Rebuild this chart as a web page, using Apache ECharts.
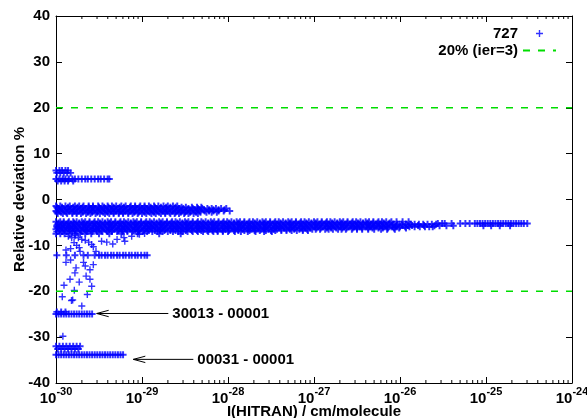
<!DOCTYPE html>
<html><head><meta charset="utf-8">
<script src="https://cdn.jsdelivr.net/npm/echarts@6/dist/echarts.min.js"></script>
<style>html,body{margin:0;padding:0;background:#fff}#c{width:587px;height:418px}</style>
</head><body><div id="c"></div>
<script>
// ---------- data (x values are log10 of I(HITRAN) in cm/molecule) ----------
const xTickExponents = [-30, -29, -28, -27, -26, -25, -24];
const yRange = [-40, 40];
const thresholdLevels = [20, -20];
const seriesName = '727';
const thresholdName = '20% (ier=3)';

// dense rows: [relative deviation %, [log10 I ...]]
const rowsTop = [
  [6.3, [-30.00,-29.96,-29.93,-29.89,-29.86]],
  [5.8, [-29.99,-29.95,-29.91,-29.87,-29.83]],
  [4.45, [-30.00,-29.96,-29.92,-29.89,-29.85,-29.81,-29.78,-29.74,-29.70,-29.66,-29.63,-29.59,-29.55,-29.51,-29.48,-29.44,-29.40,-29.38]],
  [4.05, [-29.98,-29.94,-29.90,-29.86,-29.80]]
];
const rowsUpper = [
  [-1.4, [-30.00,-29.95,-29.89,-29.84,-29.78,-29.73,-29.68,-29.62,-29.57,-29.51,-29.46,-29.40,-29.35,-29.30,-29.24,-29.19,-29.13,-29.08,-29.02,-28.97,-28.92,-28.86,-28.81,-28.75,-28.70,-28.64,-28.59]],
  [-1.68, [-29.99,-29.93,-29.86,-29.80,-29.75,-29.69,-29.62,-29.57,-29.50,-29.44,-29.39,-29.33,-29.26,-29.21,-29.14,-29.08,-29.03,-28.97,-28.90,-28.85,-28.78,-28.72,-28.67,-28.61,-28.54,-28.49,-28.42,-28.36,-28.31]],
  [-1.95, [-29.98,-29.93,-29.87,-29.82,-29.76,-29.71,-29.66,-29.60,-29.55,-29.49,-29.44,-29.38,-29.33,-29.28,-29.22,-29.17,-29.11,-29.06,-29.00,-28.95,-28.90,-28.84,-28.79,-28.73,-28.68,-28.62,-28.57,-28.52,-28.46,-28.41,-28.35,-28.30,-28.24,-28.19,-28.14,-28.08,-28.02]],
  [-2.22, [-29.97,-29.91,-29.84,-29.79,-29.72,-29.66,-29.61,-29.55,-29.48,-29.43,-29.36,-29.30,-29.25,-29.19,-29.12,-29.07,-29.00,-28.94,-28.89,-28.83,-28.76,-28.71,-28.64,-28.58,-28.53,-28.47,-28.40,-28.35,-28.28,-28.22,-28.17,-28.11,-28.04]],
  [-2.5, [-30.00,-29.96,-29.90,-29.85,-29.79,-29.74,-29.69,-29.63,-29.58,-29.52,-29.47,-29.41,-29.36,-29.31,-29.25,-29.20,-29.14,-29.09,-29.03,-28.98,-28.93,-28.87,-28.82,-28.76,-28.71,-28.65,-28.60,-28.55,-28.49,-28.44,-28.38,-28.33,-28.27,-28.22,-28.17,-28.11,-28.05,-27.98]],
  [-2.78, [-29.99,-29.94,-29.88,-29.81,-29.76,-29.69,-29.63,-29.58,-29.52,-29.45,-29.40,-29.33,-29.27,-29.22,-29.16,-29.09,-29.04,-28.97,-28.91,-28.86,-28.80,-28.73,-28.68,-28.61,-28.55,-28.50,-28.44,-28.37,-28.32,-28.25,-28.19,-28.13]],
  [-3.05, [-29.98,-29.92,-29.87,-29.81,-29.76,-29.71,-29.65,-29.60,-29.54,-29.49,-29.43,-29.38,-29.33,-29.27,-29.22,-29.16,-29.11,-29.05,-29.00,-28.95,-28.89,-28.84,-28.78,-28.73,-28.67,-28.62,-28.57,-28.51,-28.46,-28.40,-28.35]]
];
const rowsMain = [
  [-4.85, [-30.00,-29.95,-29.91,-29.85,-29.80,-29.76,-29.70,-29.66,-29.61,-29.55,-29.51,-29.46,-29.40,-29.36,-29.31,-29.25,-29.21,-29.16,-29.10,-29.06,-29.01,-28.95,-28.91,-28.86,-28.80,-28.76,-28.71,-28.65,-28.61,-28.56,-28.50,-28.46,-28.41,-28.35,-28.31,-28.26,-28.20,-28.16,-28.11,-28.05,-28.01,-27.96,-27.90,-27.86,-27.81,-27.75,-27.71,-27.66,-27.60,-27.56,-27.51,-27.45,-27.41,-27.36,-27.30,-27.26,-27.21,-27.15,-27.11,-27.06,-27.00,-26.96,-26.91,-26.85,-26.81,-26.76,-26.70,-26.66,-26.61,-26.55,-26.51,-26.46,-26.40,-26.36,-26.31,-26.25,-26.21,-26.16,-26.10,-26.04,-25.97,-25.90]],
  [-5.12, [-29.97,-29.91,-29.86,-29.79,-29.73,-29.68,-29.61,-29.56,-29.49,-29.43,-29.38,-29.31,-29.26,-29.19,-29.13,-29.08,-29.01,-28.96,-28.89,-28.83,-28.78,-28.71,-28.66,-28.59,-28.53,-28.48,-28.41,-28.36,-28.29,-28.23,-28.18,-28.11,-28.06,-27.99,-27.93,-27.88,-27.81,-27.76,-27.69,-27.63,-27.58,-27.51,-27.46,-27.39,-27.33,-27.28,-27.21,-27.16,-27.09,-27.03,-26.98,-26.91,-26.86,-26.79,-26.73,-26.68,-26.61,-26.56,-26.49,-26.43,-26.38,-26.31,-26.26,-26.19,-26.12]],
  [-5.4, [-29.98,-29.93,-29.88,-29.83,-29.78,-29.73,-29.68,-29.63,-29.58,-29.53,-29.48,-29.43,-29.38,-29.33,-29.28,-29.23,-29.18,-29.13,-29.08,-29.03,-28.98,-28.93,-28.88,-28.83,-28.78,-28.73,-28.68,-28.63,-28.58,-28.53,-28.48,-28.43,-28.38,-28.33,-28.28,-28.23,-28.18,-28.13,-28.08,-28.03,-27.98,-27.93,-27.88,-27.83,-27.78,-27.73,-27.68,-27.63,-27.58,-27.53,-27.48,-27.43,-27.38,-27.33,-27.28,-27.23,-27.18,-27.13,-27.08,-27.03,-26.98,-26.93,-26.88,-26.83,-26.78,-26.73,-26.68,-26.63,-26.58,-26.53,-26.48,-26.43,-26.38,-26.33,-26.28,-26.23,-26.18,-26.13,-26.08,-26.03,-25.98,-25.93,-25.88,-25.83,-25.78,-25.73,-25.68,-25.63,-25.58]],
  [-5.67, [-29.99,-29.94,-29.87,-29.81,-29.76,-29.69,-29.64,-29.57,-29.51,-29.46,-29.39,-29.34,-29.27,-29.21,-29.16,-29.09,-29.04,-28.97,-28.91,-28.86,-28.79,-28.74,-28.67,-28.61,-28.56,-28.49,-28.44,-28.37,-28.31,-28.26,-28.19,-28.14,-28.07,-28.01,-27.96,-27.89,-27.84,-27.77,-27.71,-27.66,-27.59,-27.54,-27.47,-27.41,-27.36,-27.29,-27.24,-27.17,-27.11,-27.06,-26.99,-26.94,-26.87,-26.81,-26.76,-26.69,-26.64,-26.57,-26.51,-26.46,-26.39,-26.34,-26.27,-26.21,-26.16,-26.09,-26.04,-25.97,-25.91,-25.86,-25.79,-25.72]],
  [-5.95, [-29.99,-29.94,-29.89,-29.84,-29.80,-29.75,-29.69,-29.65,-29.60,-29.54,-29.50,-29.45,-29.39,-29.35,-29.30,-29.24,-29.20,-29.15,-29.09,-29.05,-29.00,-28.94,-28.90,-28.85,-28.79,-28.75,-28.70,-28.64,-28.60,-28.55,-28.49,-28.45,-28.40,-28.34,-28.30,-28.25,-28.19,-28.15,-28.10,-28.04,-28.00,-27.95,-27.89,-27.85,-27.80,-27.74,-27.70,-27.65,-27.59,-27.55,-27.50,-27.44,-27.40,-27.35,-27.29,-27.25,-27.20,-27.14,-27.10,-27.05,-26.99,-26.95,-26.90,-26.84,-26.80,-26.75,-26.69,-26.65,-26.60,-26.54,-26.50,-26.45,-26.39,-26.35,-26.30,-26.24,-26.20,-26.15,-26.09,-26.05,-26.00,-25.94,-25.89,-25.83,-25.77,-25.71,-25.66,-25.62]],
  [-6.22, [-29.98,-29.92,-29.85,-29.80,-29.74,-29.67,-29.62,-29.55,-29.50,-29.44,-29.37,-29.32,-29.25,-29.20,-29.14,-29.07,-29.02,-28.95,-28.90,-28.84,-28.77,-28.72,-28.65,-28.60,-28.54,-28.47,-28.42,-28.35,-28.30,-28.24,-28.17,-28.12,-28.05,-28.00,-27.94,-27.87,-27.82,-27.75,-27.70,-27.64,-27.57,-27.52,-27.45,-27.40,-27.34,-27.27,-27.22,-27.15,-27.10,-27.04,-26.97,-26.92,-26.85,-26.80,-26.74,-26.67,-26.62,-26.55,-26.50,-26.44,-26.37,-26.32,-26.25,-26.20,-26.14,-26.07,-26.01,-25.93]],
  [-6.5, [-30.00,-29.96,-29.91,-29.86,-29.82,-29.77,-29.72,-29.67,-29.63,-29.57,-29.53,-29.48,-29.42,-29.38,-29.33,-29.27,-29.23,-29.18,-29.12,-29.08,-29.03,-28.97,-28.93,-28.88,-28.82,-28.78,-28.73,-28.67,-28.63,-28.58,-28.52,-28.48,-28.43,-28.37,-28.33,-28.28,-28.22,-28.18,-28.13,-28.07,-28.03,-27.98,-27.92,-27.88,-27.83,-27.77,-27.73,-27.68,-27.62,-27.58,-27.53,-27.47,-27.43,-27.38,-27.32,-27.28,-27.23,-27.17,-27.13,-27.08,-27.02,-26.98,-26.93,-26.87,-26.83,-26.78,-26.72,-26.68,-26.63,-26.56,-26.50,-26.44,-26.37,-26.30,-26.22,-26.15,-26.06]],
  [-6.77, [-29.96,-29.90,-29.84,-29.78,-29.71,-29.65,-29.60,-29.53,-29.47,-29.41,-29.35,-29.28,-29.22,-29.17,-29.10,-29.04,-28.98,-28.92,-28.85,-28.79,-28.74,-28.67,-28.61,-28.55,-28.49,-28.42,-28.36,-28.31,-28.24,-28.18,-28.12,-28.06,-27.99,-27.93,-27.88,-27.81,-27.75,-27.69,-27.63,-27.56,-27.50,-27.45,-27.38,-27.32,-27.26,-27.20,-27.13,-27.07]],
  [-7.0, [-29.99,-29.93,-29.88,-29.81,-29.76,-29.70,-29.64,-29.58,-29.52,-29.46,-29.40,-29.35,-29.29,-29.23,-29.17,-29.11,-29.05,-28.99,-28.94,-28.88,-28.82,-28.76,-28.70,-28.64,-28.58,-28.53,-28.47,-28.41,-28.35,-28.29,-28.23,-28.17,-28.12,-28.06,-28.00,-27.92,-27.85,-27.77,-27.68,-27.58,-27.49]],
  [-7.45, [-30.00,-29.95,-29.90,-29.84,-29.78,-29.72,-29.66,-29.59,-29.50,-29.38,-29.24,-29.05,-28.80,-28.55]]
];
const rowsTail = [
  [-5.25, [-25.56,-25.51,-25.48,-25.40,-25.30,-25.24,-25.19,-25.13,-25.10,-25.07,-25.04,-25.01,-24.98,-24.95,-24.92,-24.89,-24.86,-24.83,-24.80,-24.77,-24.74,-24.71,-24.68,-24.65,-24.62,-24.59,-24.56,-24.52]],
  [-5.7, [-25.60,-25.54,-25.46,-25.38,-25.03,-24.94,-24.84,-24.72]]
];
const rowsLow = [
  [-12.15, [-29.99,-29.88,-29.78,-29.68,-29.63,-29.55,-29.50,-29.47,-29.43,-29.40,-29.36,-29.33,-29.29,-29.26,-29.22,-29.19,-29.15,-29.12,-29.08,-29.05,-29.01,-28.97,-28.94]],
  [-24.95, [-30.00,-29.97,-29.94,-29.91,-29.88,-29.85,-29.82,-29.79,-29.76,-29.73,-29.70,-29.67,-29.64,-29.61,-29.58]],
  [-24.5, [-29.99,-29.94,-29.89]],
  [-32.0, [-30.00,-29.96,-29.92,-29.88,-29.84,-29.80,-29.76,-29.72]],
  [-32.6, [-29.98,-29.94,-29.90,-29.86,-29.82,-29.78,-29.74]],
  [-33.85, [-30.00,-29.97,-29.94,-29.91,-29.88,-29.85,-29.82,-29.79,-29.76,-29.73,-29.70,-29.67,-29.64,-29.61,-29.58,-29.55,-29.52,-29.49,-29.46,-29.43,-29.40,-29.37,-29.34,-29.31,-29.28,-29.25,-29.22]]
];
// isolated points: [log10 I, relative deviation %]
const isolatedPoints = [
  [-29.857,-8.0],[-29.818,-8.35],[-29.779,-7.9],[-29.74,-8.35],[-29.70,-8.7],[-29.66,-8.9],[-29.62,-9.3],
  [-29.585,-9.8],[-29.79,-9.4],[-29.76,-10.0],[-29.73,-10.5],[-29.566,-10.3],[-29.535,-11.3],[-29.884,-11.0],
  [-29.83,-10.7],[-29.884,-13.7],[-29.83,-13.2],[-29.68,-13.7],[-29.72,-11.3],[-29.767,-14.9],[-29.78,-16.0],
  [-29.73,-18.0],[-29.837,-17.4],[-29.907,-18.7],[-29.787,-19.8],[-29.927,-21.2],[-29.806,-21.9],[-29.70,-23.2],
  [-29.636,-20.7],[-29.585,-18.9],[-29.605,-17.4],[-29.65,-16.7],[-29.605,-15.3],[-29.566,-14.2],[-29.66,-14.5],
  [-29.47,-9.1],[-29.41,-9.3],[-29.34,-9.7],[-29.29,-8.7],[-29.21,-8.3],[-29.20,-9.1],[-29.12,-8.0],
  [-29.03,-7.6],[-28.97,-7.4],[-29.82,-22.0],[-29.92,-29.8]
];
// annotations
const arrowLabels = ['30013 - 00001', '00031 - 00001'];
const arrowTailX = [-28.694, -28.403];
const arrowHeadX = [-29.527, -29.101];
const arrowY = [-24.85, -34.85];

// ---------- build ----------
const densePoints = [];
[rowsTop, rowsUpper, rowsMain, rowsTail, rowsLow].forEach(rows =>
  rows.forEach(([y, xs]) => xs.forEach(x => densePoints.push([x, y]))));

const minorTicks = [];
for (let i = 0; i < xTickExponents.length - 1; i++)
  for (let k = 2; k <= 9; k++) minorTicks.push([xTickExponents[i] + Math.log10(k), 0]);

const FONT = '"Liberation Sans", Arial, Helvetica, sans-serif';
const PLUS = 'path://M4,0h2v4h4v2h-4v4h-2v-4h-4v-2h4z';
const PLUS_DENSE = 'path://M3.6,0h2.8v3.6h3.6v2.8h-3.6v3.6h-2.8v-3.6h-3.6v-2.8h3.6z';
const GREEN = '#00dd00';
const BLUE = '#0000ff';
const xMin = xTickExponents[0], xMax = xTickExponents[xTickExponents.length - 1];

const baseX = {
  type: 'value', min: xMin, max: xMax, interval: 1,
  axisLine: {show: true, onZero: false, lineStyle: {color: '#000', width: 1}},
  axisTick: {show: true, inside: true, length: 6, lineStyle: {color: '#000'}},
  splitLine: {show: false}
};
const baseY = {
  type: 'value', min: yRange[0], max: yRange[1], interval: 10,
  axisLine: {show: true, onZero: false, lineStyle: {color: '#000', width: 1}},
  axisTick: {show: true, inside: true, length: 6, lineStyle: {color: '#000'}},
  splitLine: {show: false}
};

const chart = echarts.init(document.getElementById('c'), null, {renderer: 'canvas'});
chart.setOption({
  animation: false,
  backgroundColor: '#fff',
  grid: {left: 56, right: 15, top: 16, bottom: 35, containLabel: false, outerBoundsMode: 'none'},
  legend: {
    data: [seriesName, thresholdName],
    orient: 'vertical', right: 25, top: 21, align: 'right',
    itemWidth: 33, itemHeight: 7, itemGap: 2, selectedMode: false,
    textStyle: {fontFamily: FONT, fontSize: 15, fontWeight: 'bold', color: '#000'}
  },
  xAxis: [
    Object.assign({}, baseX, {
      position: 'bottom',
      axisLabel: {
        margin: 3,
        formatter: v => '{b|10}{s|' + Math.round(v) + '}',
        rich: {
          b: {fontFamily: FONT, fontSize: 15, fontWeight: 'bold', color: '#000', lineHeight: 20, verticalAlign: 'bottom'},
          s: {fontFamily: FONT, fontSize: 11, fontWeight: 'bold', color: '#000', lineHeight: 6, verticalAlign: 'top'}
        }
      },
      name: 'I(HITRAN) / cm/molecule', nameLocation: 'middle', nameGap: 21, nameMoveOverlap: false,
      nameTextStyle: {fontFamily: FONT, fontSize: 15, fontWeight: 'bold', color: '#000'}
    }),
    Object.assign({}, baseX, {position: 'top', axisLabel: {show: false}})
  ],
  yAxis: [
    Object.assign({}, baseY, {
      position: 'left',
      axisLabel: {margin: 6, fontFamily: FONT, fontSize: 15, fontWeight: 'bold', color: '#000'},
      name: 'Relative deviation %', nameLocation: 'middle', nameGap: 29, nameMoveOverlap: false,
      nameTextStyle: {fontFamily: FONT, fontSize: 15, fontWeight: 'bold', color: '#000'}
    }),
    Object.assign({}, baseY, {position: 'right', axisLabel: {show: false}})
  ],
  series: [
    {
      name: seriesName, type: 'scatter', data: isolatedPoints, symbol: PLUS, symbolSize: 7,
      itemStyle: {color: BLUE}, silent: true, z: 2, emphasis: {disabled: true}
    },
    {
      name: seriesName, type: 'scatter', data: densePoints, symbol: PLUS_DENSE, symbolSize: 7,
      itemStyle: {color: BLUE}, silent: true, z: 2, emphasis: {disabled: true}
    },
    ...thresholdLevels.map(t => ({
      name: thresholdName, type: 'line', data: [[xMin, t], [xMax, t]], symbol: 'none', silent: true, z: 3,
      lineStyle: {color: GREEN, width: 1.5, type: [7, 8]}, itemStyle: {color: GREEN, opacity: 0}
    })),
    {
      type: 'custom', data: minorTicks, silent: true, z: 4, encode: {x: 0, y: 1},
      renderItem: (params, api) => {
        const b = api.coord([api.value(0), yRange[0]]);
        const t = api.coord([api.value(0), yRange[1]]);
        return {type: 'group', children: [
          {type: 'line', shape: {x1: b[0], y1: b[1], x2: b[0], y2: b[1] - 3}, style: {stroke: '#000', lineWidth: 1}},
          {type: 'line', shape: {x1: t[0], y1: t[1], x2: t[0], y2: t[1] + 3}, style: {stroke: '#000', lineWidth: 1}}
        ]};
      }
    },
    {
      type: 'custom', silent: true, z: 5, encode: {x: [0, 1], y: 2},
      data: arrowLabels.map((l, i) => [arrowTailX[i], arrowHeadX[i], arrowY[i]]),
      renderItem: (params, api) => {
        const tail = api.coord([api.value(0), api.value(2)]);
        const head = api.coord([api.value(1), api.value(2)]);
        const label = arrowLabels[params.dataIndex];
        return {type: 'group', children: [
          {type: 'line', shape: {x1: tail[0], y1: tail[1], x2: head[0], y2: head[1]}, style: {stroke: '#000', lineWidth: 1}},
          {type: 'polyline', shape: {points: [[head[0] + 12, head[1] - 3.2], [head[0], head[1]], [head[0] + 12, head[1] + 3.2]]},
            style: {stroke: '#000', fill: null, lineWidth: 1}},
          {type: 'text', style: {text: label, x: tail[0] + 4, y: tail[1], align: 'left', verticalAlign: 'middle',
            fontFamily: FONT, fontSize: 15, fontWeight: 'bold', fill: '#000'}}
        ]};
      }
    }
  ]
});
</script></body></html>
